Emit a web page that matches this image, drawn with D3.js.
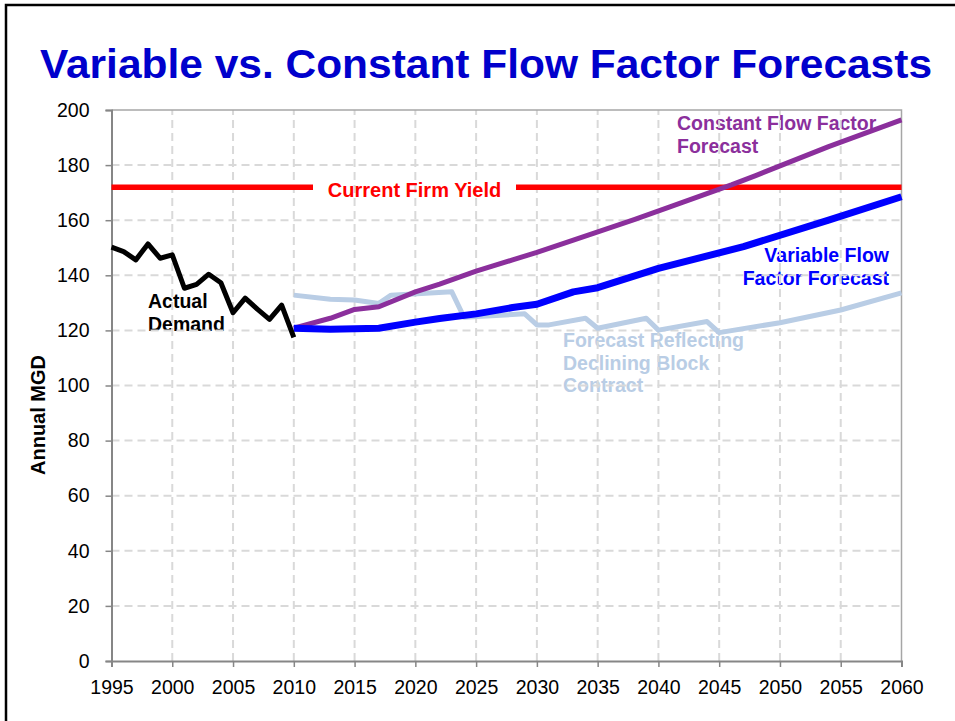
<!DOCTYPE html>
<html>
<head>
<meta charset="utf-8">
<script src="https://cdn.jsdelivr.net/npm/d3@7"></script>
<style>
  body { margin: 0; background: #fff; }
  svg { display: block; font-family: "Liberation Sans", Arial, sans-serif; }
</style>
</head>
<body>
<div id="chart"></div>
<script>
// Actual demand, annual
const actualYears = [1995, 1996, 1997, 1998, 1999, 2000, 2001, 2002, 2003, 2004, 2005, 2006, 2007, 2008, 2009, 2010];
const actualValues = [150.2, 148.6, 145.6, 151.4, 146.2, 147.4, 135.3, 136.7, 140.4, 137.3, 126.4, 131.7, 127.7, 124.0, 129.2, 117.5];

// Constant flow factor forecast
const constantYears = [2010, 2013, 2015, 2017, 2020, 2022, 2025, 2028, 2030, 2033, 2038, 2041, 2046, 2048, 2054, 2060];
const constantValues = [120.8, 124.4, 127.6, 128.6, 134.0, 136.8, 141.5, 145.6, 148.3, 152.8, 160.2, 164.9, 172.8, 176.2, 186.7, 196.4];

// Variable flow factor forecast
const variableYears = [2010, 2013, 2017, 2020, 2022, 2025, 2028, 2030, 2033, 2035, 2040, 2047, 2054, 2060];
const variableValues = [120.8, 120.4, 120.8, 123.0, 124.3, 126.0, 128.3, 129.5, 134.0, 135.5, 142.5, 150.4, 160.0, 168.5];

// Forecast reflecting declining block contract
const blockYears = [2010, 2013, 2015, 2017, 2018, 2023, 2024, 2029, 2030, 2031, 2034, 2035, 2039, 2040, 2044, 2045, 2050, 2055, 2060];
const blockValues = [132.8, 131.3, 131.0, 129.8, 132.8, 134.0, 124.8, 126.0, 122.0, 122.0, 124.4, 120.8, 124.4, 120.1, 123.2, 119.2, 122.8, 127.4, 133.6];

const firmYield = 172;
const xTicks = d3.range(1995, 2061, 5);
const yTicks = d3.range(0, 201, 20);

const width = 955, height = 721;
const margin = {top: 110, right: 53.5, bottom: 60, left: 111.5};

const svg = d3.select('#chart').append('svg')
    .attr('width', width)
    .attr('height', height);

// slide frame
svg.append('rect')
    .attr('x', 6).attr('y', 5)
    .attr('width', width + 10).attr('height', height + 10)
    .attr('fill', 'none')
    .attr('stroke', '#000')
    .attr('stroke-width', 2.5);

// title
svg.append('text')
    .attr('x', 486).attr('y', 78)
    .attr('text-anchor', 'middle')
    .attr('textLength', 892)
    .attr('lengthAdjust', 'spacingAndGlyphs')
    .style('font-size', '41px')
    .style('font-weight', 'bold')
    .style('fill', '#0000CC')
    .text('Variable vs. Constant Flow Factor Forecasts');

const x = d3.scaleLinear().domain([1995, 2060]).range([margin.left, width - margin.right]);
const y = d3.scaleLinear().domain([0, 200]).range([height - margin.bottom, margin.top]);

// annotations (drawn before grid, grid shows through them)
function label(lines, px, py, colour, anchor) {
  const t = svg.append('text')
      .attr('x', px).attr('y', py)
      .attr('text-anchor', anchor || 'start')
      .style('font-size', '19.5px')
      .style('font-weight', 'bold')
      .style('fill', colour);
  lines.forEach((s, i) => {
    t.append('tspan').attr('x', px).attr('dy', i === 0 ? 0 : 22.5).text(s);
  });
}
label(['Constant Flow Factor', 'Forecast'], 677, 130, '#8B2F9C');
label(['Variable Flow', 'Factor Forecast'], 889, 262, '#0000FF', 'end');
label(['Actual', 'Demand'], 148, 308, '#000');
label(['Forecast Reflecting', 'Declining Block', 'Contract'], 563, 347, '#B9CDE5');

// grid
const grid = svg.append('g').attr('stroke', '#D9D9D9').attr('stroke-width', 2).attr('stroke-dasharray', '8,5');
grid.selectAll('.hg').data(yTicks.filter(d => d > 0 && d < 200)).join('line')
    .attr('x1', x(1995)).attr('x2', x(2060))
    .attr('y1', d => y(d)).attr('y2', d => y(d));
grid.selectAll('.vg').data(xTicks.filter(d => d > 1995 && d < 2060)).join('line')
    .attr('y1', y(0)).attr('y2', y(200))
    .attr('x1', d => x(d)).attr('x2', d => x(d));

// plot border top/right
svg.append('path')
    .attr('d', `M${x(1995)},${y(200)}H${x(2060)}V${y(0)}`)
    .attr('fill', 'none')
    .attr('stroke', '#A6A6A6')
    .attr('stroke-width', 1.5);

// axes
const xAxis = svg.append('g')
    .attr('transform', `translate(0,${y(0)})`)
    .call(d3.axisBottom(x).tickValues(xTicks).tickFormat(d3.format('d')).tickSize(6).tickPadding(13));
const yAxis = svg.append('g')
    .attr('transform', `translate(${x(1995)},0)`)
    .call(d3.axisLeft(y).tickValues(yTicks).tickSize(6).tickPadding(16));
[xAxis, yAxis].forEach(a => {
  a.select('.domain').attr('stroke', '#868686').attr('stroke-width', 2);
  a.selectAll('.tick line').attr('stroke', '#868686').attr('stroke-width', 1.5);
  a.selectAll('text')
      .style('font-size', '19.5px')
      .style('font-family', '"Liberation Sans", Arial, sans-serif')
      .attr('fill', '#000');
});

// y axis title
svg.append('text')
    .attr('transform', 'translate(45,415) rotate(-90)')
    .attr('text-anchor', 'middle')
    .style('font-size', '20px')
    .style('font-weight', 'bold')
    .text('Annual MGD');

// firm yield line with gap for its label
const yieldY = y(firmYield);
svg.append('line')
    .attr('x1', x(1995)).attr('x2', 313)
    .attr('y1', yieldY).attr('y2', yieldY)
    .attr('stroke', '#FF0000').attr('stroke-width', 5.5);
svg.append('line')
    .attr('x1', 516).attr('x2', x(2060))
    .attr('y1', yieldY).attr('y2', yieldY)
    .attr('stroke', '#FF0000').attr('stroke-width', 5.5);
svg.append('text')
    .attr('x', 414.5).attr('y', yieldY + 9.5)
    .attr('text-anchor', 'middle')
    .style('font-size', '20px')
    .style('font-weight', 'bold')
    .style('fill', '#FF0000')
    .text('Current Firm Yield');

// series lines
const line = d3.line().x(d => x(d[0])).y(d => y(d[1]));
const series = [
  {years: blockYears, values: blockValues, colour: '#B9CDE5', w: 5},
  {years: constantYears, values: constantValues, colour: '#8B2F9C', w: 5},
  {years: variableYears, values: variableValues, colour: '#0000FF', w: 7},
  {years: actualYears, values: actualValues, colour: '#000000', w: 5}
];
series.forEach(s => {
  svg.append('path')
      .datum(d3.zip(s.years, s.values))
      .attr('fill', 'none')
      .attr('stroke', s.colour)
      .attr('stroke-width', s.w)
      .attr('stroke-linejoin', 'round')
      .attr('d', line);
});
</script>
</body>
</html>
